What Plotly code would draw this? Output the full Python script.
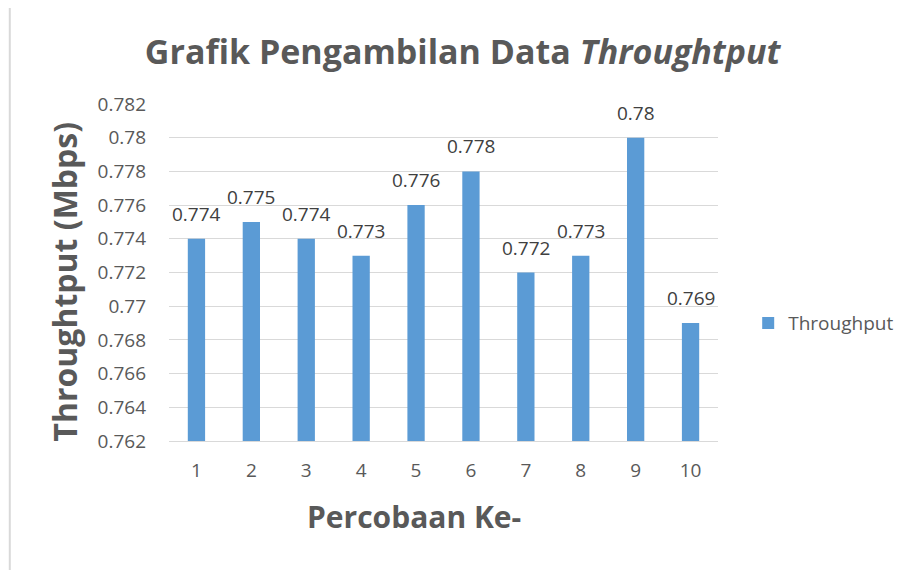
import plotly.graph_objects as go

categories = ["1", "2", "3", "4", "5", "6", "7", "8", "9", "10"]
throughput = [0.774, 0.775, 0.774, 0.773, 0.776, 0.778, 0.772, 0.773, 0.780, 0.769]
y_ticks = [0.762, 0.764, 0.766, 0.768, 0.770, 0.772, 0.774, 0.776, 0.778, 0.780, 0.782]
y_tick_labels = ["0.762", "0.764", "0.766", "0.768", "0.77", "0.772", "0.774",
                 "0.776", "0.778", "0.78", "0.782"]
value_labels = ["0.774", "0.775", "0.774", "0.773", "0.776", "0.778", "0.772", "0.773", "0.78", "0.769"]

FONT = "Open Sans"
fig = go.Figure()
fig.add_trace(go.Bar(
    x=list(range(len(categories))), y=throughput, name="Throughput",
    marker=dict(color="#5B9BD5", line=dict(width=0)),
))

for i, (v, t) in enumerate(zip(throughput, value_labels)):
    fig.add_annotation(x=i, y=v, text=t, showarrow=False, xanchor="center", yanchor="bottom",
                       yshift=10, font=dict(family=FONT, size=19, color="#404040"))

fig.add_annotation(xref="paper", yref="paper", x=-0.19, y=0.472,
                   xanchor="center", yanchor="middle",
                   text="<b>Throughtput (Mbps)</b>", textangle=-90, showarrow=False,
                   font=dict(family=FONT, size=32, color="#595959"))
fig.add_annotation(xref="paper", yref="paper", x=0.447, y=-0.2255,
                   xanchor="center", yanchor="middle",
                   text="<b>Percobaan Ke-</b>", showarrow=False,
                   font=dict(family=FONT, size=30, color="#595959"))

fig.add_shape(type="rect", xref="paper", yref="paper", x0=-0.29, y0=-0.5, x1=1.5, y1=1.294,
              line=dict(color="#d9d9d9", width=2), layer="below")

fig.update_layout(
    width=903, height=570,
    margin=dict(l=161, r=186, t=96, b=137),
    paper_bgcolor="white", plot_bgcolor="white",
    title=dict(text="<b>Grafik Pengambilan Data <i>Throughtput</i></b>",
               x=0.535, xref="paper", xanchor="center",
               y=1 - 44 / 570, yref="container", yanchor="middle",
               font=dict(family=FONT, size=34, color="#595959")),
    bargap=0.685,
    showlegend=True,
    legend=dict(x=1.055, y=0.35, xanchor="left", yanchor="middle",
                font=dict(family=FONT, size=19, color="#595959"),
                bgcolor="rgba(0,0,0,0)"),
    xaxis=dict(range=[-0.5, len(categories) - 0.5],
               tickvals=list(range(len(categories))), ticktext=categories,
               showgrid=False, showline=True, linecolor="#d9d9d9",
               linewidth=1, ticks="", tickfont=dict(family=FONT, size=19, color="#595959"),
               ticklabelstandoff=12, zeroline=False),
    yaxis=dict(range=[0.762, 0.782], tickvals=y_ticks, ticktext=y_tick_labels,
               showgrid=True, gridcolor="#d9d9d9", gridwidth=1, zeroline=False,
               showline=False, ticks="", ticklabelstandoff=22,
               tickfont=dict(family=FONT, size=19, color="#595959")),
)

fig.write_html("out.html")
